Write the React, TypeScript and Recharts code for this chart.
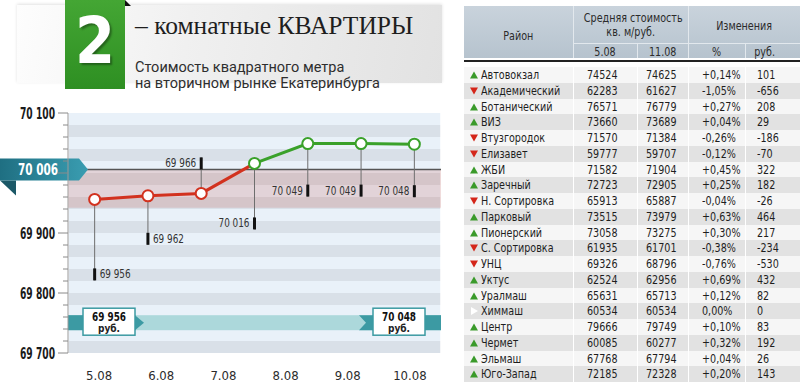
import React from 'react';
import { LineChart, Line, XAxis, YAxis, CartesianGrid, ReferenceLine, ReferenceArea } from 'recharts';

// chart data
const days = ['5.08', '6.08', '7.08', '8.08', '9.08', '10.08', '11.08'];
const prices = [69956, 69962, 69966, 70016, 70049, 70049, 70048];
const averagePrice = 70006;
const redZone = [69942, 70006];
const bottomBand = [69738, 69763];
const yTicks = [
  69700, 69720, 69740, 69760, 69780, 69800, 69820, 69840, 69860, 69880, 69900,
  69920, 69940, 69960, 69980, 70000, 70020, 70040, 70060, 70080, 70100,
];
const yLabels = [69700, 69800, 69900, 70100];
const xBounds = [0, 1, 2, 3, 4, 5, 6, 7];
const xCenters = [0.5, 1.5, 2.5, 3.5, 4.5, 5.5, 6.5];

// table data
const districts = [
  'Автовокзал', 'Академический', 'Ботанический', 'ВИЗ', 'Втузгородок', 'Елизавет', 'ЖБИ',
  'Заречный', 'Н. Сортировка', 'Парковый', 'Пионерский', 'С. Сортировка', 'УНЦ', 'Уктус',
  'Уралмаш', 'Химмаш', 'Центр', 'Чермет', 'Эльмаш', 'Юго-Запад',
];
const priceStart = [
  74524, 62283, 76571, 73660, 71570, 59777, 71582, 72723, 65913, 73515,
  73058, 61935, 69326, 62524, 65631, 60534, 79666, 60085, 67768, 72185,
];
const priceEnd = [
  74625, 61627, 76779, 73689, 71384, 59707, 71904, 72905, 65887, 73979,
  73275, 61701, 68796, 62956, 65713, 60534, 79749, 60277, 67794, 72328,
];
const changePct = [
  0.14, -1.05, 0.27, 0.04, -0.26, -0.12, 0.45, 0.25, -0.04, 0.63,
  0.3, -0.38, -0.76, 0.69, 0.12, 0, 0.1, 0.32, 0.04, 0.2,
];
const changeRub = [
  101, -656, 208, 29, -186, -70, 322, 182, -26, 464,
  217, -234, -530, 432, 82, 0, 83, 192, 26, 143,
];

// label layout (px offset of leader end from the point, side of the text)
const leaderTip = [81, 49, -36, 66, 53, 53, 53];
const labelSide = ['right', 'right', 'left', 'left', 'left', 'left', 'left'];

const NARROW = "'DejaVu Sans Condensed', 'Liberation Sans Narrow', sans-serif";
const RED = '#d2321f';
const GREEN = '#3aa12a';

const fmt = (v: number) => String(v).replace(/\B(?=(\d{3})+(?!\d))/g, ' ');
const fmtPct = (v: number) => (v > 0 ? '+' : '') + v.toFixed(2).replace('.', ',') + '%';

const rows = days.map((d, i) => ({
  x: i + 0.5,
  day: d,
  red: i <= 3 ? prices[i] : null,
  green: i >= 3 ? prices[i] : null,
}));

function makeDot(color: string, from: number, to: number) {
  return (props: any) => {
    const { cx, cy, index } = props;
    if (cx == null || cy == null || index < from || index > to) return <g key={`n${color}${index}`} />;
    const tip = leaderTip[index];
    const end = cy + tip;
    const barTop = tip > 0 ? end - 12 : end;
    const right = labelSide[index] === 'right';
    return (
      <g key={`d${color}${index}`}>
        <line x1={cx} y1={cy} x2={cx} y2={end} stroke="#6e6e6e" strokeWidth={1} />
        <line x1={cx} y1={barTop} x2={cx} y2={barTop + 12} stroke="#111" strokeWidth={3} />
        <text
          x={right ? cx + 5 : cx - 5}
          y={barTop + 10}
          textAnchor={right ? 'start' : 'end'}
          fontFamily={NARROW}
          fontSize={12}
          textLength={31}
          lengthAdjust="spacingAndGlyphs"
          fill="#333"
        >
          {fmt(prices[index])}
        </text>
        <circle cx={cx} cy={cy} r={5.5} fill="#fff" stroke={color} strokeWidth={2} />
      </g>
    );
  };
}

const YTick = (props: any) => {
  const { x, y, payload } = props;
  const major = payload.value % 100 === 0;
  return (
    <g>
      <line x1={x - (major ? 10 : 5)} x2={x} y1={y} y2={y} stroke="#8a8a8a" strokeWidth={1} />
      {yLabels.includes(payload.value) && (
        <text x={x - 13} y={y + 5.5} textAnchor="end" fontFamily={NARROW} fontWeight="bold" fontSize={15}
          textLength={35} lengthAdjust="spacingAndGlyphs" fill="#1a1a1a">
          {fmt(payload.value)}
        </text>
      )}
    </g>
  );
};

const FlagLabel = (props: any) => {
  const y = props.viewBox.y;
  return (
    <g>
      <defs>
        <linearGradient id="flagGrad" x1="0" x2="1" y1="0" y2="0">
          <stop offset="0" stopColor="#1f6f82" />
          <stop offset="1" stopColor="#3a9db1" />
        </linearGradient>
      </defs>
      <polygon points={`0,${y + 11} 16,${y + 11} 16,${y + 26}`} fill="#1b5867" />
      <polygon points={`0,${y - 11} 79,${y - 11} 88,${y} 79,${y + 11} 0,${y + 11}`} fill="url(#flagGrad)" />
      <text x={18} y={y + 5.5} fontFamily={NARROW} fontWeight="bold" fontSize={16}
        textLength={40} lengthAdjust="spacingAndGlyphs" fill="#fff">
        {fmt(averagePrice)}
      </text>
    </g>
  );
};

const BandShape = (props: any) => {
  const { x, y, width, height } = props;
  const r = x + width;
  const mid = y + height / 2;
  const box = (bx: number, v: number) => (
    <g>
      <rect x={bx} y={y - 7} width={52} height={27} fill="#fff" stroke="#3b9aa2" strokeWidth={1.5} />
      <text x={bx + 9} y={y + 6} fontFamily={NARROW} fontWeight="bold" fontSize={13}
        textLength={34} lengthAdjust="spacingAndGlyphs" fill="#111">
        {fmt(v)}
      </text>
      <text x={bx + 26} y={y + 17} textAnchor="middle" fontFamily={NARROW} fontWeight="bold" fontSize={10} fill="#222">
        руб.
      </text>
    </g>
  );
  return (
    <g>
      <rect x={x} y={y} width={width} height={height} fill="#acd8db" />
      <rect x={x} y={y} width={15} height={height} fill="#3c9aa3" />
      <rect x={r - 16} y={y} width={16} height={height} fill="#3c9aa3" />
      <polygon points={`${x + 67},${y} ${x + 76},${mid} ${x + 67},${y + height}`} fill="#3c9aa3" />
      <polygon
        points={`${r - 82},${y} ${r - 68},${y} ${r - 68},${y + height} ${r - 82},${y + height} ${r - 75},${mid}`}
        fill="#3c9aa3"
      />
      {box(x + 15, prices[0])}
      {box(r - 68, prices[prices.length - 1])}
    </g>
  );
};

const Tri = ({ v }: { v: number }) => {
  if (v > 0) return <svg width={8} height={8} style={{ position: 'absolute', left: 6, top: 4 }}><polygon points="0,7.5 4,0.5 8,7.5" fill="#3a9a2a" /></svg>;
  if (v < 0) return <svg width={8} height={8} style={{ position: 'absolute', left: 6, top: 4 }}><polygon points="0,0.5 8,0.5 4,7.5" fill="#d4261a" /></svg>;
  return <svg width={8} height={8} style={{ position: 'absolute', left: 7, top: 4 }}><polygon points="0,0 7,4 0,8" fill="#fff" /></svg>;
};

// condensed text: squeeze horizontally
const N = ({ children, origin = 'left' }: { children: React.ReactNode; origin?: string }) => (
  <span style={{ display: 'inline-block', transform: 'scaleX(0.82)', transformOrigin: origin, whiteSpace: 'nowrap' }}>{children}</span>
);

const colX = [0, 109, 173, 224, 281, 336];
const ROW_TOP = 61;
const ROW_H = 15.75;

function Table() {
  const head: React.CSSProperties = { position: 'absolute', textAlign: 'center', fontFamily: NARROW, fontSize: 13, color: '#2b2b2b', lineHeight: '13px', whiteSpace: 'nowrap' };
  const cell: React.CSSProperties = { position: 'absolute', fontFamily: NARROW, fontSize: 13, color: '#1e1e1e', lineHeight: `${ROW_H}px`, whiteSpace: 'nowrap' };
  return (
    <div style={{ position: 'absolute', left: 464, top: 6, width: 336, height: 379 }}>
      <div style={{ position: 'absolute', left: 0, top: 0, width: 336, height: 52, background: 'linear-gradient(#c9d3dc, #b6c3ce)' }} />
      <div style={{ position: 'absolute', left: 109, top: 0, width: 1, height: 52, background: '#e2e8ed' }} />
      <div style={{ position: 'absolute', left: 224, top: 0, width: 1, height: 52, background: '#e2e8ed' }} />
      <div style={{ position: 'absolute', left: 173, top: 37, width: 1, height: 15, background: '#e2e8ed' }} />
      <div style={{ position: 'absolute', left: 281, top: 37, width: 1, height: 15, background: '#e2e8ed' }} />
      <div style={{ position: 'absolute', left: 109, top: 37, width: 227, height: 1, background: '#e2e8ed' }} />
      <div style={{ position: 'absolute', left: 0, top: 54, width: 336, height: 2, background: '#222' }} />
      <div style={{ ...head, left: 0, width: 109, top: 23 }}><N origin="center">Район</N></div>
      <div style={{ ...head, left: 109, width: 115, top: 5 }}><N origin="center">Средняя стоимость</N></div>
      <div style={{ ...head, left: 109, width: 115, top: 19 }}><N origin="center">кв. м/руб.</N></div>
      <div style={{ ...head, left: 224, width: 112, top: 13 }}><N origin="center">Изменения</N></div>
      <div style={{ ...head, left: 109, width: 64, top: 39 }}><N origin="center">5.08</N></div>
      <div style={{ ...head, left: 173, width: 51, top: 39 }}><N origin="center">11.08</N></div>
      <div style={{ ...head, left: 224, width: 57, top: 39 }}><N origin="center">%</N></div>
      <div style={{ ...head, left: 281, width: 40, top: 39 }}><N origin="center">руб.</N></div>
      {districts.map((name, i) => {
        const top = ROW_TOP + i * ROW_H;
        return (
          <div key={name} style={{ position: 'absolute', left: 0, top, width: 336, height: ROW_H, background: i % 2 ? '#e2e2e2' : '#f6f6f6' }}>
            {colX.slice(1, 5).map((cx) => (
              <div key={cx} style={{ position: 'absolute', left: cx, top: 0, width: 1, height: ROW_H, background: '#fff' }} />
            ))}
            <Tri v={changeRub[i]} />
            <div style={{ ...cell, left: 17, top: 0 }}><N>{name}</N></div>
            <div style={{ ...cell, left: 123, top: 0 }}><N>{priceStart[i]}</N></div>
            <div style={{ ...cell, left: 182, top: 0 }}><N>{priceEnd[i]}</N></div>
            <div style={{ ...cell, left: 238, top: 0 }}><N>{fmtPct(changePct[i])}</N></div>
            <div style={{ ...cell, left: 293, top: 0 }}><N>{changeRub[i]}</N></div>
          </div>
        );
      })}
    </div>
  );
}

function Header() {
  return (
    <>
      <div style={{ position: 'absolute', left: 17, top: 5, width: 425, height: 78, background: 'linear-gradient(100deg, #fdfdfd 0%, #f0f0f0 40%, #e2e2e2 100%)', boxShadow: '0 -1px 3px rgba(0,0,0,0.12)' }} />
      <div style={{ position: 'absolute', left: 65, top: 0, width: 60, height: 89, background: 'linear-gradient(#44a634, #2e8f22)' }}>
        <div style={{ position: 'absolute', left: 0, top: 5, width: 60, textAlign: 'center', fontFamily: NARROW, fontWeight: 'bold', fontSize: 64, lineHeight: '72px', color: '#fff', textShadow: '2px 2px 2px rgba(0,0,0,0.35)' }}>2</div>
      </div>
      <svg width={8} height={8} style={{ position: 'absolute', left: 125, top: 0 }}><polygon points="0,0 6,6 0,6" fill="#111" /></svg>
      <div style={{ position: 'absolute', left: 135, top: 10, fontFamily: "'Liberation Serif', 'DejaVu Serif', serif", fontSize: 25.5, lineHeight: '32px', color: '#1e1e1e', whiteSpace: 'nowrap' }}>
        – комнатные КВАРТИРЫ
      </div>
      <div style={{ position: 'absolute', left: 135, top: 60, fontFamily: "Roboto, 'Noto Sans', sans-serif", fontSize: 14.5, lineHeight: '16px', color: '#2e2e2e', whiteSpace: 'nowrap' }}>
        Стоимость квадратного метра
        <br />
        на вторичном рынке Екатеринбурга
      </div>
    </>
  );
}

export default function App() {
  return (
    <div style={{ position: 'relative', width: 800, height: 385, overflow: 'hidden', background: '#fff' }}>
      <style>{'body{margin:0}'}</style>
      <div style={{ position: 'absolute', left: 0, top: 0 }}>
        <LineChart width={445} height={385} data={rows} margin={{ top: 113, right: 4, bottom: 0, left: 0 }}>
          <CartesianGrid vertical={false} horizontal stroke="#e9f1f9" strokeOpacity={0} horizontalFill={['#e9f1f9', '#d9e0e8']} fillOpacity={1} />
          <CartesianGrid horizontal={false} vertical stroke="#ffffff" strokeWidth={1.5} />
          <XAxis dataKey="x" type="number" domain={[0, 7]} ticks={xBounds} interval={0} tick={false} height={0}
            axisLine={{ stroke: '#333', strokeWidth: 1.5 }} tickLine={{ stroke: '#9a9a9a' }} tickSize={11} />
          <XAxis xAxisId="lab" type="number" domain={[0, 7]} ticks={xCenters} interval={0} height={32}
            axisLine={false} tickLine={false} tickSize={0} tickMargin={18}
            tickFormatter={(v: number) => days[Math.floor(v)]}
            tick={{ fontFamily: NARROW, fontSize: 13, fill: '#2b2b2b' }} />
          <YAxis type="number" domain={[69700, 70100]} ticks={yTicks} interval={0} width={68}
            axisLine={{ stroke: '#9a9a9a' }} tickLine={false} tickSize={0} tickMargin={0} tick={<YTick />} />
          <ReferenceArea y1={redZone[0]} y2={redZone[1]} fill="#c0392b" fillOpacity={0.16} stroke="none" />
          <ReferenceArea y1={bottomBand[0]} y2={bottomBand[1]} shape={<BandShape />} />
          <ReferenceLine y={averagePrice} stroke="#555" strokeWidth={1.5} label={<FlagLabel />} />
          <Line type="linear" dataKey="red" stroke={RED} strokeWidth={3} dot={makeDot(RED, 0, 2)} activeDot={false} isAnimationActive={false} />
          <Line type="linear" dataKey="green" stroke={GREEN} strokeWidth={3} dot={makeDot(GREEN, 3, 6)} activeDot={false} isAnimationActive={false} />
        </LineChart>
      </div>
      <Header />
      <Table />
    </div>
  );
}
